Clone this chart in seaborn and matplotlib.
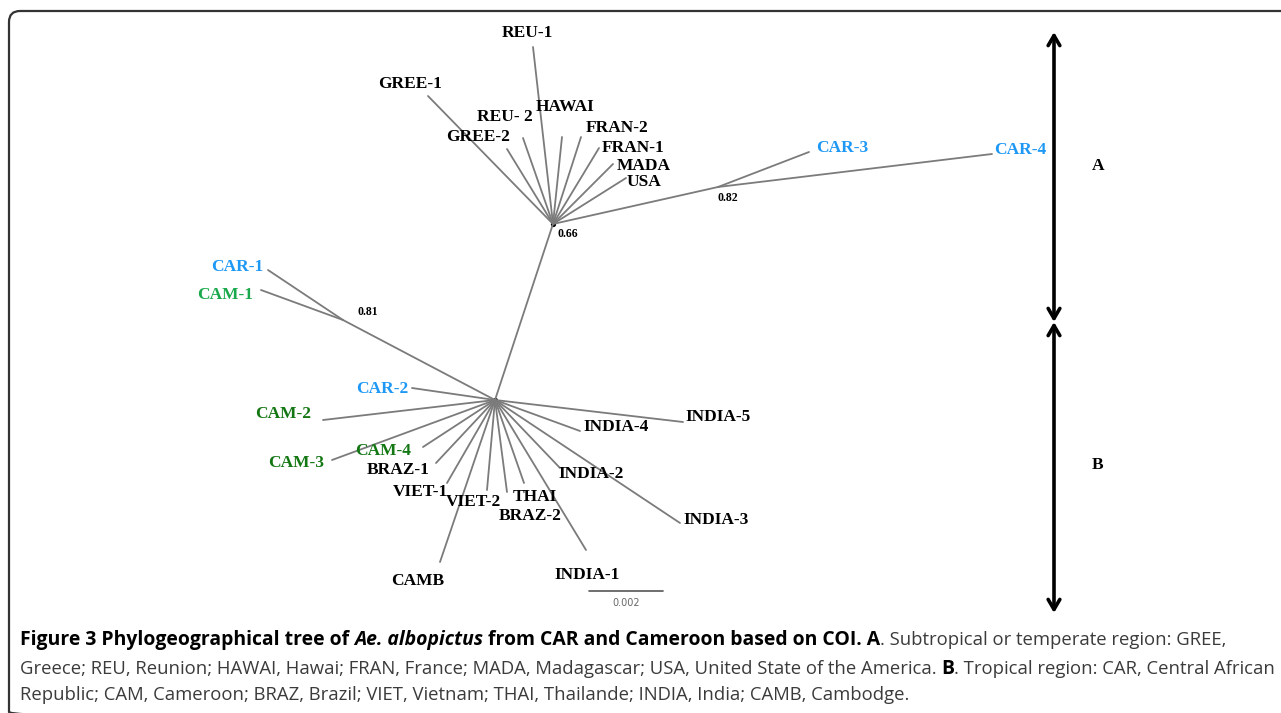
import numpy as np
import pandas as pd
import matplotlib
matplotlib.use("Agg")
import matplotlib.pyplot as plt
from matplotlib.patches import FancyBboxPatch
import seaborn as sns

# --- tree layout (pixel space of the 1281x713 image) ---
node_names = ["hubA", "hubB", "n082", "n081"]
node_x = [553, 495, 718, 343]
node_y = [224, 400, 187, 320]
node_support = ["0.66", "", "0.82", "0.81"]

inner_edges = [("hubB", "hubA"), ("hubA", "n082"), ("hubB", "n081")]

tip_names = ["REU-1", "GREE-1", "GREE-2", "REU- 2", "HAWAI", "FRAN-2", "FRAN-1",
             "MADA", "USA", "CAR-3", "CAR-4", "CAR-1", "CAM-1", "CAR-2", "CAM-2",
             "CAM-3", "CAM-4", "BRAZ-1", "VIET-1", "VIET-2", "THAI", "BRAZ-2",
             "CAMB", "INDIA-1", "INDIA-2", "INDIA-3", "INDIA-4", "INDIA-5"]
tip_parent = ["hubA"] * 9 + ["n082", "n082", "n081", "n081"] + ["hubB"] * 15
tip_x = [533, 428, 507, 523, 562, 581, 599, 613, 626, 809, 992, 268, 261, 412,
         323, 332, 423, 436, 447, 487, 507, 524, 440, 586, 560, 680, 580, 683]
tip_y = [47, 96, 149, 138, 137, 137, 148, 164, 178, 152, 154, 270, 290, 388,
         420, 460, 447, 463, 483, 490, 492, 483, 562, 550, 468, 523, 431, 422]
tip_group = ["other"] * 9 + ["car", "car", "car", "cam1", "car", "cam", "cam",
                             "cam"] + ["other"] * 11

# label centres
label_x = [527, 410, 478, 505, 565, 617, 633, 644, 644, 842, 1020, 237, 225, 382,
           283, 296, 383, 398, 420, 473, 535, 530, 418, 587, 591, 716, 616, 718]
label_y = [33, 84, 137, 117, 107, 128, 148, 166, 182, 148, 150, 267, 295, 389,
           414, 463, 451, 470, 492, 502, 497, 516, 581, 575, 474, 520, 427, 417]

support_offset = {"hubA": (15, 10), "n082": (10, 11), "n081": (25, -8)}

scale_bar_x = [589, 663]
scale_bar_y = 591
scale_label = "0.002"

region_names = ["A", "B"]
region_top = [32, 322]
region_bottom = [322, 613]
region_label_y = [166, 465]

group_colors = {"other": "black", "car": "#1e98f5", "cam1": "#19a84c", "cam": "#137713"}

caption_lines = [
    [("Figure 3 Phylogeographical tree of ", "bold", "normal"),
     ("Ae. albopictus", "bold", "italic"),
     (" from CAR and Cameroon based on COI. A", "bold", "normal"),
     (". Subtropical or temperate region: GREE,", "normal", "normal")],
    [("Greece; REU, Reunion; HAWAI, Hawai; FRAN, France; MADA, Madagascar; USA, "
      "United State of the America. ", "normal", "normal"),
     ("B", "bold", "normal"),
     (". Tropical region: CAR, Central African", "normal", "normal")],
    [("Republic; CAM, Cameroon; BRAZ, Brazil; VIET, Vietnam; THAI, Thailande; "
      "INDIA, India; CAMB, Cambodge.", "normal", "normal")],
]
caption_baselines = [645, 674, 700]

# --- build edge table ---
pos = {n: (x, y) for n, x, y in zip(node_names, node_x, node_y)}
rows = []
eid = 0
for a, b in inner_edges:
    for n in (a, b):
        rows.append({"edge": eid, "x": pos[n][0], "y": pos[n][1]})
    eid += 1
for p, x, y in zip(tip_parent, tip_x, tip_y):
    rows.append({"edge": eid, "x": pos[p][0], "y": pos[p][1]})
    rows.append({"edge": eid, "x": x, "y": y})
    eid += 1
edges = pd.DataFrame(rows)
hubs = pd.DataFrame({"x": node_x[:2], "y": node_y[:2]})

sns.set_theme(style="white")
plt.rcParams["font.family"] = ["Liberation Serif", "DejaVu Serif"]

fig = plt.figure(figsize=(12.81, 7.13), dpi=100)
ax = fig.add_axes([0, 0, 1, 1])

sns.lineplot(data=edges, x="x", y="y", units="edge", estimator=None, sort=False,
             color="#7b7b7b", lw=1.3, ax=ax, legend=False)
sns.scatterplot(data=hubs, x="x", y="y", s=14, color="black", linewidth=0, ax=ax)

for name, g, lx, ly in zip(tip_names, tip_group, label_x, label_y):
    ax.text(lx, ly, name, ha="center", va="center", fontsize=12.5,
            fontweight="bold", color=group_colors[g])

for n, s in zip(node_names, node_support):
    if s:
        dx, dy = support_offset[n]
        ax.text(pos[n][0] + dx, pos[n][1] + dy, s, ha="center", va="center",
                fontsize=8.5, fontweight="bold", color="black")

# scale bar
ax.plot(scale_bar_x, [scale_bar_y, scale_bar_y], color="#555555", lw=1.2)
ax.text(np.mean(scale_bar_x), scale_bar_y + 12, scale_label, ha="center", va="center",
        fontsize=7, color="#666666", family="DejaVu Sans")

# region arrows
for name, top, bot, ly in zip(region_names, region_top, region_bottom, region_label_y):
    ax.annotate("", xy=(1054, top), xytext=(1054, bot),
                arrowprops=dict(arrowstyle="<->,head_length=0.6,head_width=0.35",
                                lw=2.6, color="black", shrinkA=0, shrinkB=0))
    ax.text(1098, ly, name, ha="center", va="center", fontsize=12.5,
            fontweight="bold", color="black")

# rounded frame
frame = FancyBboxPatch((9, 11), 1300, 712, boxstyle="round,pad=0,rounding_size=11",
                       fill=False, ec="#333333", lw=1.6)
ax.add_patch(frame)

ax.set_xlim(0, 1281)
ax.set_ylim(713, 0)
ax.axis("off")

# caption, drawn run by run; sizes fitted to the widths seen in the figure
fig.canvas.draw()
renderer = fig.canvas.get_renderer()
cap_font = ["Open Sans", "DejaVu Sans"]


def run_width(text, weight, style, size):
    t = ax.text(0, 0, text, fontsize=size, fontweight=weight, fontstyle=style,
                family=cap_font)
    w = t.get_window_extent(renderer).width
    t.remove()
    return w


s0 = 13.0
bold_w = sum(run_width(t, w, s, s0) for t, w, s in caption_lines[0] if w == "bold")
size_bold = s0 * 852 / bold_w
b_w = run_width("B", "bold", "normal", size_bold)
norm_w = sum(run_width(t, w, s, s0) for t, w, s in caption_lines[1] if w == "normal")
size_norm = s0 * (1252 - b_w) / norm_w

for runs, base in zip(caption_lines, caption_baselines):
    x = 20
    for text, weight, style in runs:
        col = "black" if weight == "bold" else "#3b3b3b"
        size = size_bold if weight == "bold" else size_norm
        t = ax.text(x, base, text, ha="left", va="baseline", fontsize=size,
                    fontweight=weight, fontstyle=style, color=col, family=cap_font)
        x += t.get_window_extent(renderer).width

fig.savefig("out.png", dpi=100)
